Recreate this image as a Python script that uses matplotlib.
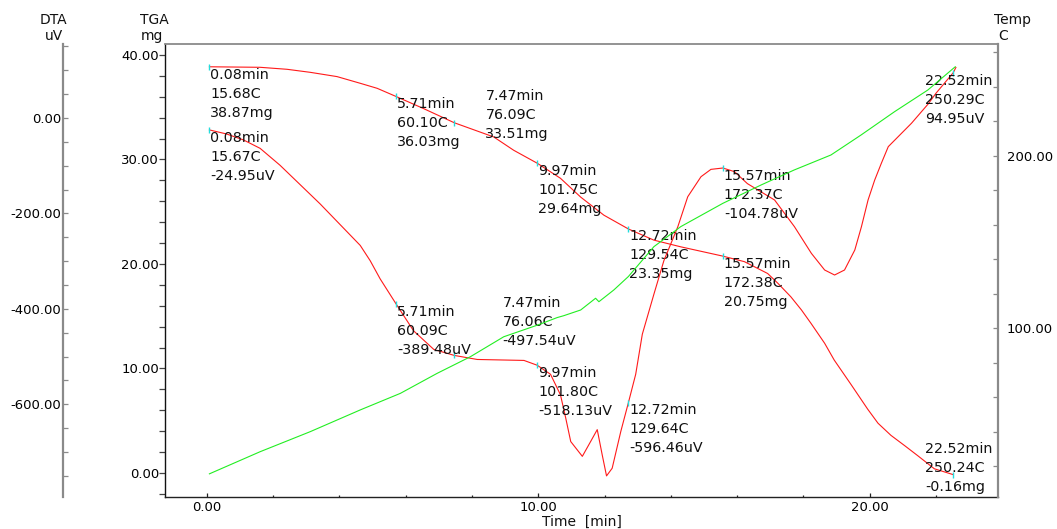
import matplotlib
matplotlib.use("Agg")
import matplotlib.pyplot as plt
from matplotlib.ticker import MultipleLocator, FixedLocator, FormatStrFormatter

W, H = 1057, 529
plt.rcParams['font.family'] = ['DejaVu Sans']

# ---------------- data ----------------
tga_t = [0.08, 1.61, 2.42, 3.12, 3.93, 4.63, 5.14, 5.71, 6.54, 7.47, 8.66, 9.26, 9.97,
         10.67, 11.28, 11.98, 12.72, 13.49, 14.30, 14.90, 15.57, 16.22, 16.92, 17.23,
         17.62, 17.94, 18.23, 18.64, 18.93, 19.44, 19.94, 20.25, 20.64, 21.06, 21.45,
         21.95, 22.52]
tga_mg = [38.87, 38.82, 38.63, 38.34, 37.93, 37.29, 36.81, 36.03, 34.87, 33.51, 32.15,
          30.88, 29.64, 28.2, 26.4, 24.67, 23.35, 22.28, 21.64, 21.22, 20.75, 20.22, 19.09,
          18.15, 16.86, 15.6, 14.31, 12.41, 10.80, 8.45, 6.1, 4.76, 3.6, 2.6, 1.65,
          0.4, -0.16]

dta_t = [0.08, 0.60, 1.11, 1.61, 2.21, 3.42, 4.63, 4.93, 5.23, 5.71, 6.24, 6.85, 7.47,
         8.16, 9.57, 9.97, 10.37, 10.67, 10.83, 10.98, 11.33, 11.58, 11.78, 11.93, 12.06,
         12.23, 12.49, 12.72, 12.94, 13.14, 13.49, 13.79, 14.21, 14.51, 14.91, 15.21,
         15.57, 15.92, 16.31, 17.13, 17.73, 18.24, 18.64, 18.94, 19.24, 19.55, 19.75,
         19.95, 20.15, 20.35, 20.56, 20.76, 21.26, 21.77, 22.00, 22.52, 22.60]
dta_uv = [-24.95, -33.5, -46, -63.6, -99, -180, -267, -299, -337, -389.48, -446, -485,
          -497.54, -506, -508, -518.13, -537, -580, -629, -678, -709, -678, -653, -706,
          -750, -734, -657, -596.46, -537, -453, -369, -299, -228, -165, -123, -107.6,
          -104.78, -112.4, -137.5, -171.8, -227.8, -283.6, -318.5, -329, -318.5, -276.6,
          -227.8, -171.8, -130, -95, -60, -46, -11, 30, 52, 94.95, 106]

temp_t = [0.08, 1.61, 3.12, 4.63, 5.84, 6.95, 7.95, 8.96, 9.97, 10.57, 10.77, 11.28, 11.73,
          11.83, 12.28, 12.72, 13.49, 14.30, 15.57, 16.72, 17.72, 18.83, 19.74, 20.75,
          21.75, 22.58]
temp_c = [15.68, 28.5, 40.1, 52.7, 62.3, 73.9, 83.5, 95.1, 101.8, 106.2, 107.3, 110.6, 117.4,
          115.4, 122.2, 130.0, 147.3, 158.9, 172.4, 183.0, 191.7, 200.4, 212.0, 225.5,
          238.0, 251.5]

# annotated points: time, value, time label, temperature label, value label
tga_ann_t = [0.08, 5.71, 7.47, 9.97, 12.72, 15.57, 22.52]
tga_ann_v = [38.87, 36.03, 33.51, 29.64, 23.35, 20.75, -0.16]
tga_ann_temp = ["15.68C", "60.10C", "76.09C", "101.75C", "129.54C", "172.38C", "250.24C"]
tga_ann_val = ["38.87mg", "36.03mg", "33.51mg", "29.64mg", "23.35mg", "20.75mg", "-0.16mg"]

dta_ann_t = [0.08, 5.71, 7.47, 9.97, 12.72, 15.57, 22.52]
dta_ann_v = [-24.95, -389.48, -497.54, -518.13, -596.46, -104.78, 94.95]
dta_ann_temp = ["15.67C", "60.09C", "76.06C", "101.80C", "129.64C", "172.37C", "250.29C"]
dta_ann_val = ["-24.95uV", "-389.48uV", "-497.54uV", "-518.13uV", "-596.46uV",
               "-104.78uV", "94.95uV"]

# label offsets in pixels (dx, dy of first line centre)
tga_off = [(1, -8), (1, -8), (31, 27), (1, -8), (1, -7), (1, -8), (-28, 26)]
dta_off = [(1, -8), (1, -8), (48, 52), (1, -8), (1, -7), (1, -8), (-28, -8)]

RED = '#ff1a1a'
GREEN = '#22ee22'
CYAN = '#22dddd'
GRAY = '#8a8a8a'

fig = plt.figure(figsize=(W / 100, H / 100), dpi=100)
L, R, T, B = 165, 998, 44, 497
ax = fig.add_axes([L / W, 1 - B / H, (R - L) / W, (B - T) / H])
ax.set_xlim(-1.26, 23.87)
ax.set_ylim(-2.30, 41.05)

axd = ax.twinx()
axd.set_ylim(-794.2, 155.1)
axt = ax.twinx()
axt.set_ylim(2.26, 264.7)

# spines
for s in ['left', 'right', 'top', 'bottom']:
    axd.spines[s].set_visible(False)
    axt.spines[s].set_visible(False)
axd.spines['left'].set_visible(True)
axd.spines['left'].set_position(('axes', (63 - L) / (R - L)))
axd.spines['left'].set_color(GRAY)
axd.spines['left'].set_linewidth(1.6)
axd.yaxis.set_ticks_position('left')
axd.yaxis.set_label_position('left')

axt.spines['right'].set_visible(True)
axt.spines['right'].set_color(GRAY)
axt.spines['right'].set_linewidth(1.6)

ax.spines['right'].set_visible(False)
ax.spines['top'].set_color(GRAY)
ax.spines['top'].set_linewidth(1.3)
ax.spines['left'].set_color('#111111')
ax.spines['left'].set_linewidth(1.0)
ax.spines['bottom'].set_color('#222222')
ax.spines['bottom'].set_linewidth(1.0)

# ticks
fmt = FormatStrFormatter('%.2f')
ax.xaxis.set_major_locator(MultipleLocator(10))
ax.xaxis.set_minor_locator(MultipleLocator(2))
ax.xaxis.set_major_formatter(fmt)
ax.yaxis.set_major_locator(MultipleLocator(10))
ax.yaxis.set_minor_locator(MultipleLocator(2))
ax.yaxis.set_major_formatter(fmt)
ax.tick_params(axis='x', which='major', direction='in', length=3, width=0.9, pad=3,
               labelsize=9.5, color='#222222')
ax.tick_params(axis='x', which='minor', direction='in', length=1.6, width=0.9, color='#222222')
ax.tick_params(axis='y', which='both', direction='out', length=4, width=0.9, pad=0.3,
               labelsize=9.5, color='#444444')

axd.yaxis.set_major_locator(FixedLocator([-600, -400, -200, 0]))
axd.yaxis.set_minor_locator(MultipleLocator(50))
axd.yaxis.set_major_formatter(fmt)
axd.tick_params(axis='y', which='both', direction='in', length=3.6, width=0.9, pad=1,
                labelsize=9.5, color=GRAY)

axt.yaxis.set_major_locator(FixedLocator([100, 200]))
axt.yaxis.set_minor_locator(MultipleLocator(20))
axt.yaxis.set_major_formatter(fmt)
axt.tick_params(axis='y', which='both', direction='in', length=3.3, width=0.9, pad=6.5,
                labelsize=9.5, color=GRAY)

# curves
axt.plot(temp_t, temp_c, color=GREEN, lw=0.8, zorder=2)
ax.plot(tga_t, tga_mg, color=RED, lw=0.8, zorder=3)
axd.plot(dta_t, dta_uv, color=RED, lw=0.8, zorder=3)

ax.plot(tga_ann_t, tga_ann_v, ls='none', marker='|', ms=5, mew=1, color=CYAN, zorder=4)
axd.plot(dta_ann_t, dta_ann_v, ls='none', marker='|', ms=5, mew=1, color=CYAN, zorder=4)


def annotate(a, ts, vs, temps, vals, offs):
    for t, v, tl, vl, (dx, dy) in zip(ts, vs, temps, vals, offs):
        lines = [f"{t:.2f}min", tl, vl]
        for i, line in enumerate(lines):
            a.annotate(line, xy=(t, v), xycoords='data',
                       xytext=(dx, dy - 19 * i), textcoords='offset pixels',
                       ha='left', va='center', fontsize=10.3, color='#111111',
                       annotation_clip=False, zorder=5)


annotate(ax, tga_ann_t, tga_ann_v, tga_ann_temp, tga_ann_val, tga_off)
annotate(axd, dta_ann_t, dta_ann_v, dta_ann_temp, dta_ann_val, dta_off)

# axis titles


def ftext(x, y, s, **kw):
    fig.text(x / W, 1 - y / H, s, ha='center', va='center', fontsize=10, color='#111111', **kw)


ftext(53.5, 20, "DTA")
ftext(53.5, 36, "uV")
ftext(154, 20, "TGA")
ftext(152, 36, "mg")
ftext(1013, 20, "Temp")
ftext(1003, 36, "C")
ftext(581.7, 521.5, "Time  [min]")

fig.savefig("out.png", dpi=100)
